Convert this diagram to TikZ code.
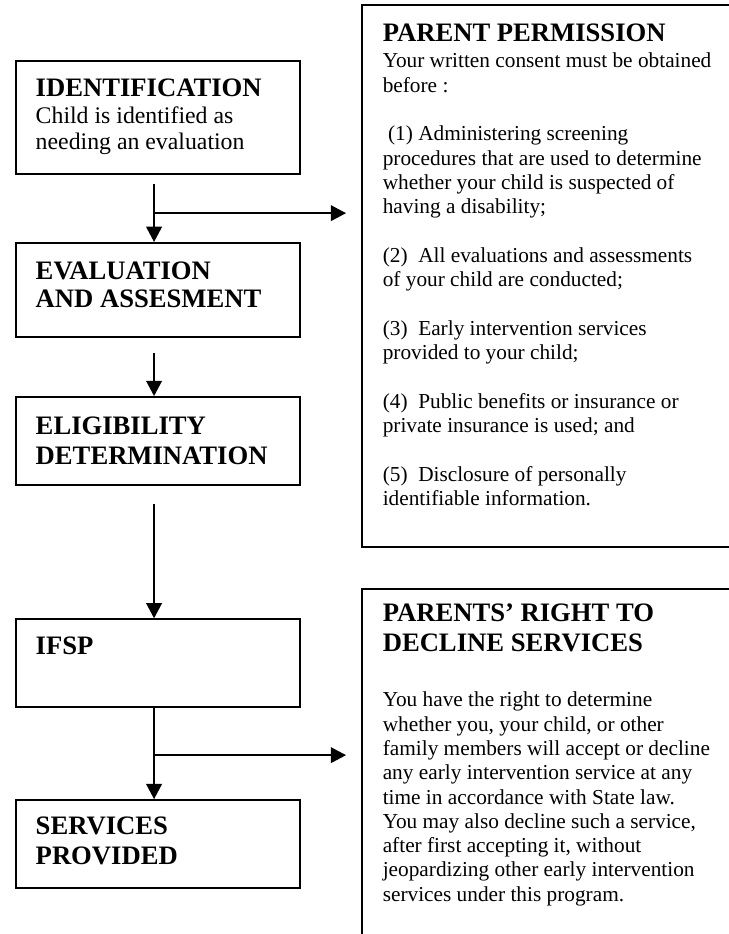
\documentclass[tikz,border=0pt]{standalone}
\usepackage{fontspec}
\setmainfont{Liberation Serif}
\usetikzlibrary{arrows.meta, positioning}

\begin{document}
\begin{tikzpicture}[
    stage/.style={rectangle, draw, line width=1.1pt, inner sep=0pt,
                  minimum width=5.62cm},
    panel/.style={rectangle, draw, line width=1.1pt, inner sep=0pt,
                  minimum width=8cm},
    head/.style={inner sep=0pt, align=left,
                 font=\fontsize{15}{16.9}\selectfont\bfseries},
    note/.style={inner sep=0pt, align=left, font=\fontsize{13.4}{14.6}\selectfont},
    body/.style={inner sep=0pt, align=left, font=\fontsize{12}{13.7}\selectfont},
    flow/.style={-{Triangle[length=8.6pt,width=8.8pt]}, line width=1.1pt}
]
    \useasboundingbox (0,0) rectangle (14.43,-18.49);
    \clip (0,0) rectangle (14.43,-18.49);

    % Steps on the left
    \node[stage, minimum height=2.24cm] (ident) at (3.13,-2.33) {};
    \node[stage, minimum height=1.86cm] (eval) at (3.13,-5.74) {};
    \node[stage, minimum height=1.74cm] (elig) at (3.13,-8.73) {};
    \node[stage, minimum height=1.74cm] (ifsp) at (3.13,-13.13) {};
    \node[stage, minimum height=1.74cm] (serv) at (3.13,-16.71) {};

    \node[head, below right=0.36cm and 0.40cm of ident.north west] (identhead) {IDENTIFICATION};
    \node[note, below right=0.92cm and 0.40cm of ident.north west] (identtxt)
        {Child is identified as\\needing an evaluation};
    \node[head, below right=0.38cm and 0.40cm of eval.north west, font=\fontsize{15}{15.8}\selectfont\bfseries] (evalhead)
        {EVALUATION\\AND ASSESMENT};
    \node[head, below right=0.40cm and 0.40cm of elig.north west] (elighead)
        {ELIGIBILITY\\DETERMINATION};
    \node[head, below right=0.36cm and 0.40cm of ifsp.north west] (ifsphead) {IFSP};
    \node[head, below right=0.34cm and 0.40cm of serv.north west] (servhead)
        {SERVICES\\PROVIDED};

    % Boxes on the right
    \node[panel, minimum height=10.73cm] (perm) at (11.17,-5.465) {};
    \node[panel, minimum height=7.84cm] (decline) at (11.17,-15.58) {};

    \node[head, below right=0.38cm and 0.42cm of perm.north west] (permhead) {PARENT PERMISSION};
    \node[body, below right=0.96cm and 0.42cm of perm.north west] (permtxt)
        {Your written consent must be obtained\\
         before :\\[13.7pt]
         \hspace*{3pt}(1) Administering screening\\
         procedures that are used to determine\\
         whether your child is suspected of\\
         having a disability;\\[13.7pt]
         (2)~ All evaluations and assessments\\
         of your child are conducted;\\[13.7pt]
         (3)~ Early intervention services\\
         provided to your child;\\[13.7pt]
         (4)~ Public benefits or insurance or\\
         private insurance is used; and\\[13.7pt]
         (5)~ Disclosure of personally\\
         identifiable information.};
    \node[head, below right=0.30cm and 0.42cm of decline.north west] (declhead)
        {PARENTS’ RIGHT TO\\DECLINE SERVICES};
    \node[body, below right=2.05cm and 0.42cm of decline.north west] (decltxt)
        {You have the right to determine\\
         whether you, your child, or other\\
         family members will accept or decline\\
         any early intervention service at any\\
         time in accordance with State law.\\
         You may also decline such a service,\\
         after first accepting it, without\\
         jeopardizing other early intervention\\
         services under this program.};

    % Arrows
    \coordinate (split1) at ([xshift=-0.08cm,yshift=-0.75cm]ident.south);
    \coordinate (split2) at ([xshift=-0.08cm,yshift=-0.93cm]ifsp.south);

    \draw[flow] ([xshift=-0.08cm,yshift=-0.18cm]ident.south) -- ([xshift=-0.08cm]eval.north);
    \draw[flow] (split1) -- ([xshift=-0.30cm]perm.west |- split1);
    \draw[flow] ([xshift=-0.08cm,yshift=-0.30cm]eval.south) -- ([xshift=-0.08cm]elig.north);
    \draw[flow] ([xshift=-0.08cm,yshift=-0.36cm]elig.south) -- ([xshift=-0.08cm]ifsp.north);
    \draw[flow] ([xshift=-0.08cm]ifsp.south) -- ([xshift=-0.08cm]serv.north);
    \draw[flow] (split2) -- ([xshift=-0.30cm]decline.west |- split2);
\end{tikzpicture}
\end{document}
